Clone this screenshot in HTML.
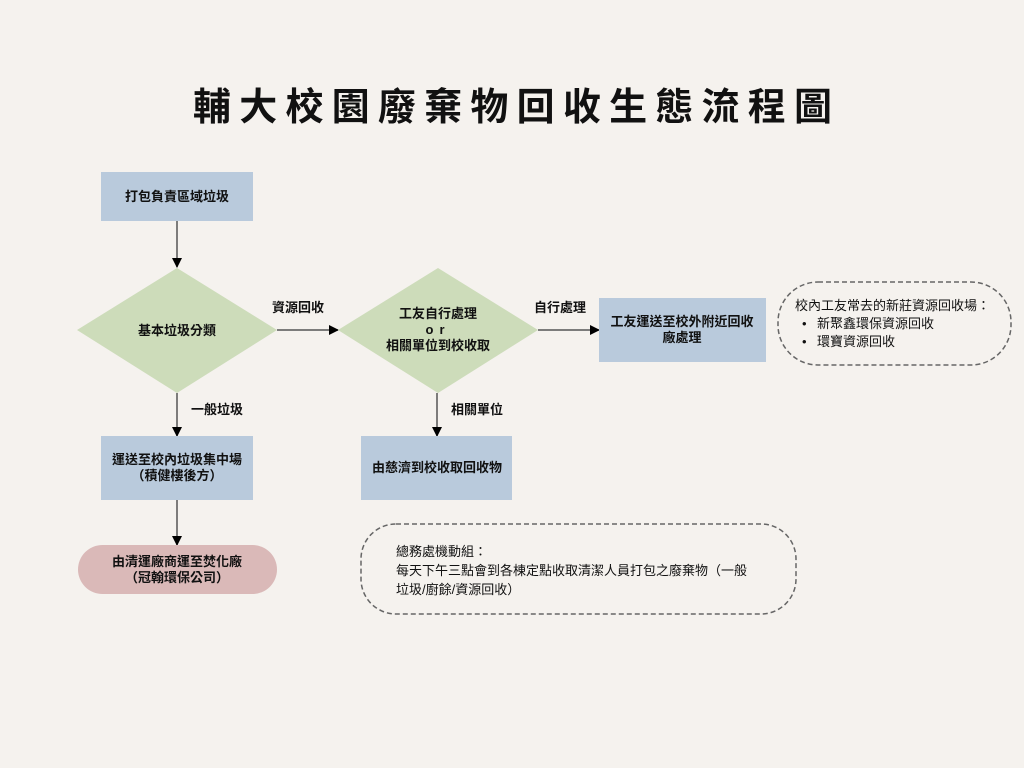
<!DOCTYPE html>
<html><head><meta charset="utf-8"><style>
html,body{margin:0;padding:0;background:#f5f2ee;}
svg{display:block}
text{font-family:"Liberation Sans","Noto Sans CJK TC",sans-serif;fill:#111;}
.b{font-weight:bold;font-size:13px;}
.n{font-size:13px;}
</style></head><body>
<svg width="1024" height="768" viewBox="0 0 1024 768" xmlns="http://www.w3.org/2000/svg">
<rect width="1024" height="768" fill="#f5f2ee"/>
<text x="193" y="120" font-size="38" font-weight="bold" textLength="639" lengthAdjust="spacing">輔大校園廢棄物回收生態流程圖</text>
<defs><marker id="a" markerWidth="10" markerHeight="10" refX="9" refY="5" orient="auto" markerUnits="userSpaceOnUse"><path d="M0,0 L10,5 L0,10 z" fill="#000"/></marker></defs>
<g stroke="#555" stroke-width="1.5" fill="none">
<line x1="177" y1="221" x2="177" y2="267" marker-end="url(#a)"/>
<line x1="277" y1="330" x2="338" y2="330" marker-end="url(#a)"/>
<line x1="538" y1="330" x2="599" y2="330" marker-end="url(#a)"/>
<line x1="177" y1="393" x2="177" y2="436" marker-end="url(#a)"/>
<line x1="437" y1="393" x2="437" y2="436" marker-end="url(#a)"/>
<line x1="177" y1="500" x2="177" y2="545" marker-end="url(#a)"/>
</g>
<rect x="101" y="172" width="152" height="49" fill="#b9cadc"/>
<text class="b" x="177" y="201" text-anchor="middle">打包負責區域垃圾</text>
<polygon points="177,268 277,330 177,393 77,330" fill="#cddcba"/>
<text class="b" x="177" y="335" text-anchor="middle">基本垃圾分類</text>
<polygon points="438,268 538,330 438,393 338,330" fill="#cddcba"/>
<text class="b" x="438" y="318" text-anchor="middle">工友自行處理</text>
<text class="b" x="438" y="334" text-anchor="middle" letter-spacing="6">or</text>
<text class="b" x="438" y="350" text-anchor="middle">相關單位到校收取</text>
<text class="b" x="298" y="312" text-anchor="middle">資源回收</text>
<text class="b" x="560" y="312" text-anchor="middle">自行處理</text>
<text class="b" x="217" y="414" text-anchor="middle">一般垃圾</text>
<text class="b" x="477" y="414" text-anchor="middle">相關單位</text>
<rect x="599" y="298" width="167" height="64" fill="#b9cadc"/>
<text class="b" x="682" y="326" text-anchor="middle">工友運送至校外附近回收</text>
<text class="b" x="682" y="342" text-anchor="middle">廠處理</text>
<rect x="778" y="282" width="233" height="83" rx="40" fill="none" stroke="#666" stroke-width="1.5" stroke-dasharray="5,3"/>
<text class="n" x="795" y="310">校內工友常去的新莊資源回收場：</text>
<text class="n" x="802" y="328">•</text><text class="n" x="817" y="328">新聚鑫環保資源回收</text>
<text class="n" x="802" y="346">•</text><text class="n" x="817" y="346">環寶資源回收</text>
<rect x="101" y="436" width="152" height="64" fill="#b9cadc"/>
<text class="b" x="177" y="464" text-anchor="middle">運送至校內垃圾集中場</text>
<text class="b" x="177" y="480" text-anchor="middle">（積健樓後方）</text>
<rect x="361" y="436" width="151" height="64" fill="#b9cadc"/>
<text class="b" x="437" y="472" text-anchor="middle">由慈濟到校收取回收物</text>
<rect x="78" y="545" width="199" height="49" rx="24.5" fill="#dab9b8"/>
<text class="b" x="177" y="566" text-anchor="middle">由清運廠商運至焚化廠</text>
<text class="b" x="177" y="582" text-anchor="middle">（冠翰環保公司）</text>
<rect x="361" y="524" width="435" height="90" rx="35" fill="none" stroke="#666" stroke-width="1.5" stroke-dasharray="5,3"/>
<text class="n" x="396" y="556">總務處機動組：</text>
<text class="n" x="396" y="575">每天下午三點會到各棟定點收取清潔人員打包之廢棄物（一般</text>
<text class="n" x="396" y="594">垃圾/廚餘/資源回收）</text>
</svg>
</body></html>
